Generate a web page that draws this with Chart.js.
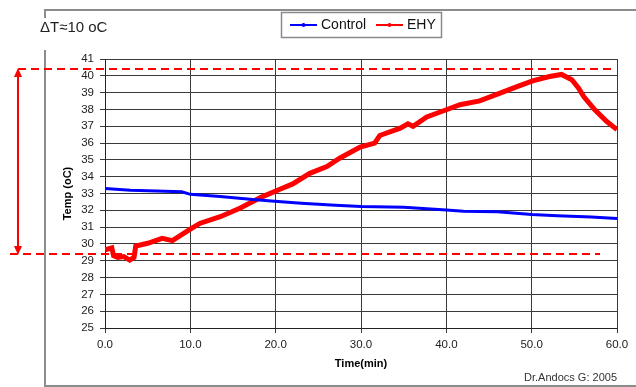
<!DOCTYPE html>
<html>
<head>
<meta charset="utf-8">
<script src="https://cdn.jsdelivr.net/npm/chart.js@4.4.1/dist/chart.umd.min.js"></script>
<style>
html, body { margin: 0; padding: 0; background: #fff; }
#wrap { width: 636px; height: 387px; }
</style>
</head>
<body>
<div id="wrap"><canvas id="chart" width="636" height="387"></canvas></div>
<script>
// readings taken off the original figure
const controlTime = [0, 3, 6, 9, 10, 13.5, 17, 19.5, 23, 27, 30, 35, 40, 42, 46, 50, 53, 57, 60];
const controlTemp = [33.3, 33.2, 33.15, 33.1, 32.95, 32.82, 32.66, 32.55, 32.42, 32.3, 32.22, 32.18, 32.02, 31.95, 31.92, 31.75, 31.68, 31.6, 31.52];
const ehyTime = [0, 0.8, 1.0, 1.5, 2.2, 2.9, 3.4, 3.6, 5, 6.7, 7.9, 10, 11.1, 13.5, 15.8, 18.4, 20.5, 22, 24, 26, 27.5, 29.9, 31.6, 32.2, 34.6, 35.5, 36.1, 37.7, 40, 41.6, 43.9, 46.3, 48.6, 50.2, 52.1, 53.5, 54.7, 55.5, 56.1, 57.4, 58.8, 60];
const ehyTemp = [29.65, 29.77, 29.3, 29.2, 29.25, 29.04, 29.2, 29.87, 30.04, 30.33, 30.2, 30.88, 31.22, 31.62, 32.12, 32.8, 33.25, 33.57, 34.2, 34.6, 35.1, 35.76, 36.0, 36.45, 36.89, 37.15, 37.0, 37.55, 37.98, 38.28, 38.51, 38.97, 39.42, 39.71, 39.96, 40.08, 39.77, 39.27, 38.77, 37.98, 37.28, 36.8];
const seriesNames = ['Control', 'EHY'];
const seriesColors = ['#0000ff', '#ff0000'];
const deltaLevels = [40.4, 29.38];   // top / bottom of the delta T band
const deltaLabel = '\u0394T\u224810 oC';
const credit = 'Dr.Andocs G: 2005';

const FONT = '"Liberation Sans", Arial, sans-serif';

function toPoints(xs, ys) {
    return xs.map((x, i) => ({ x: x, y: ys[i] }));
}

const decor = {
    id: 'decor',
    beforeDraw(chart) {
        const ctx = chart.ctx;
        ctx.save();
        ctx.fillStyle = '#fff';
        ctx.fillRect(0, 0, chart.width, chart.height);
        // outer frame
        ctx.strokeStyle = '#8c8c8c';
        ctx.lineWidth = 2;
        ctx.beginPath();
        ctx.moveTo(640, 10);
        ctx.lineTo(45, 10);
        ctx.lineTo(45, 386);
        ctx.lineTo(640, 386);
        ctx.stroke();
        ctx.fillStyle = '#fff';
        ctx.fillRect(36, 18, 80, 32);
        ctx.fillStyle = '#222';
        ctx.font = '15px ' + FONT;
        ctx.textBaseline = 'middle';
        ctx.fillText(deltaLabel, 40, 28);
        ctx.restore();
    },
    afterDatasetsDraw(chart) {
        const ctx = chart.ctx;
        const y = chart.scales.y;
        const yTop = Math.round(y.getPixelForValue(deltaLevels[0]));
        const yBot = Math.round(y.getPixelForValue(deltaLevels[1]));
        ctx.save();
        ctx.strokeStyle = '#ff0000';
        ctx.lineWidth = 2;
        ctx.setLineDash([8, 5]);
        ctx.beginPath();
        ctx.moveTo(18, yTop);
        ctx.lineTo(615, yTop);
        ctx.moveTo(10, yBot);
        ctx.lineTo(600, yBot);
        ctx.stroke();
        ctx.setLineDash([]);
        // double arrow
        ctx.beginPath();
        ctx.moveTo(18, yTop + 6);
        ctx.lineTo(18, yBot - 6);
        ctx.stroke();
        ctx.fillStyle = '#ff0000';
        ctx.beginPath();
        ctx.moveTo(18, yTop - 1);
        ctx.lineTo(14, yTop + 8);
        ctx.lineTo(22, yTop + 8);
        ctx.closePath();
        ctx.fill();
        ctx.beginPath();
        ctx.moveTo(18, yBot + 1);
        ctx.lineTo(14, yBot - 8);
        ctx.lineTo(22, yBot - 8);
        ctx.closePath();
        ctx.fill();
        ctx.restore();
    },
    afterDraw(chart) {
        const ctx = chart.ctx;
        ctx.save();
        // legend box
        ctx.fillStyle = '#fff';
        ctx.fillRect(281, 12, 160, 25);
        ctx.strokeStyle = '#8a8a8a';
        ctx.lineWidth = 1.5;
        ctx.strokeRect(281.5, 12.5, 160, 25);
        const items = [[290, 321], [376, 407]];
        ctx.font = '14px ' + FONT;
        ctx.textBaseline = 'middle';
        items.forEach((it, i) => {
            ctx.strokeStyle = seriesColors[i];
            ctx.fillStyle = seriesColors[i];
            ctx.lineWidth = 2;
            ctx.beginPath();
            ctx.moveTo(it[0], 25);
            ctx.lineTo(it[0] + 27, 25);
            ctx.stroke();
            ctx.beginPath();
            ctx.arc(it[0] + 13.5, 25, 2, 0, Math.PI * 2);
            ctx.fill();
            ctx.fillStyle = '#111';
            ctx.fillText(seriesNames[i], it[1], 25);
        });
        ctx.fillStyle = '#333';
        ctx.font = '11px ' + FONT;
        ctx.textAlign = 'right';
        ctx.fillText(credit, 617, 378);
        ctx.restore();
    }
};

new Chart(document.getElementById('chart'), {
    type: 'line',
    data: {
        datasets: [
            {
                label: seriesNames[0],
                data: toPoints(controlTime, controlTemp),
                borderColor: seriesColors[0],
                borderWidth: 3
            },
            {
                label: seriesNames[1],
                data: toPoints(ehyTime, ehyTemp),
                borderColor: seriesColors[1],
                borderWidth: 5
            }
        ]
    },
    options: {
        responsive: false,
        animation: false,
        devicePixelRatio: 1,
        layout: { padding: { left: 0, top: 59, right: 19, bottom: 0 } },
        elements: { point: { radius: 0 }, line: { tension: 0 } },
        plugins: { legend: { display: false }, tooltip: { enabled: false } },
        scales: {
            x: {
                type: 'linear',
                min: 0,
                max: 60,
                afterFit: s => { s.height = 59; },
                ticks: {
                    stepSize: 10,
                    maxRotation: 0,
                    autoSkip: false,
                    padding: 5,
                    color: '#222',
                    font: { family: FONT, size: 11.5 },
                    callback: v => v.toFixed(1)
                },
                grid: { color: '#3a3a3a', lineWidth: 1, tickLength: 5 },
                border: { color: '#222', width: 1 },
                title: {
                    display: true,
                    text: 'Time(min)',
                    color: '#000',
                    font: { family: FONT, size: 11, weight: 'bold' },
                    padding: { top: 16, bottom: 16 }
                }
            },
            y: {
                min: 25,
                max: 41,
                afterFit: s => { s.width = 105; },
                ticks: {
                    stepSize: 1,
                    padding: 6,
                    color: '#222',
                    font: { family: FONT, size: 11.5 }
                },
                grid: { color: '#3a3a3a', lineWidth: 1, tickLength: 5 },
                border: { color: '#222', width: 1 },
                title: {
                    display: true,
                    text: 'Temp (oC)',
                    color: '#000',
                    font: { family: FONT, size: 11, weight: 'bold' },
                    padding: { top: 61, bottom: 0 }
                }
            }
        }
    },
    plugins: [decor]
});
</script>
</body>
</html>
